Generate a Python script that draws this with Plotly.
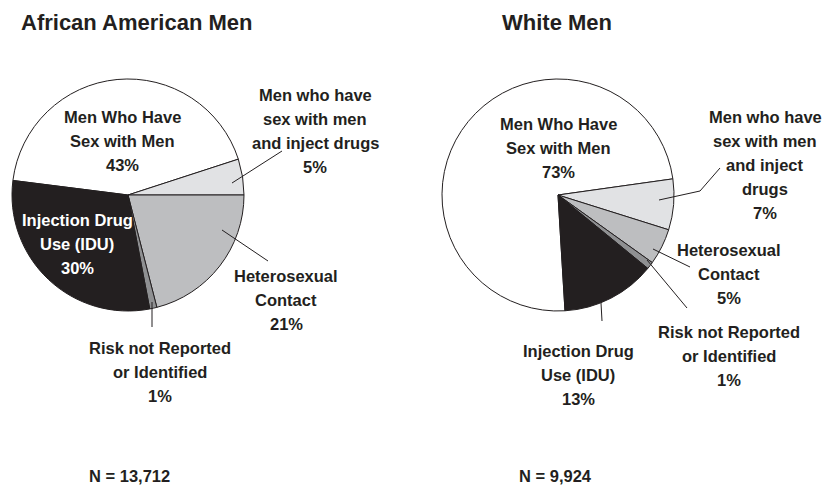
import plotly.graph_objects as go

# HIV/AIDS cases by exposure category
categories = [
    "Men Who Have Sex with Men",
    "Men who have sex with men and inject drugs",
    "Heterosexual Contact",
    "Risk not Reported or Identified",
    "Injection Drug Use (IDU)",
]
aa_values = [43, 5, 21, 1, 30]        # African American men, %
white_values = [73, 7, 5, 1, 13]      # White men, %
aa_n = "13,712"
white_n = "9,924"
titles = ["African American Men", "White Men"]

slice_colors = ["#ffffff", "#e1e2e4", "#bdbec0", "#8f9092", "#231f20"]
INK = "#231f20"
FONT = "Liberation Sans, Arial, sans-serif"
LABEL_SIZE = 16.5
LINE_GAP = 23.8

W, H = 822, 486


def px(x):
    return x / W


def py(y):
    return 1 - y / H


def domain(cx, cy, r):
    return dict(x=[px(cx - r), px(cx + r)], y=[py(cy + r), py(cy - r)])


def rotation_for(values, start_of_second):
    # angle (clockwise from 12 o'clock) where the first slice begins so that
    # the second slice starts at `start_of_second`
    total = sum(values)
    return start_of_second - 360.0 * values[0] / total


fig = go.Figure()

pies = [
    dict(values=aa_values, center=(128, 195), r=116, start=72),
    dict(values=white_values, center=(558, 195), r=116, start=82),
]

for p in pies:
    cx, cy = p["center"]
    fig.add_trace(go.Pie(
        labels=categories,
        values=p["values"],
        sort=False,
        direction="clockwise",
        rotation=rotation_for(p["values"], p["start"]),
        marker=dict(colors=slice_colors, line=dict(color=INK, width=1)),
        textinfo="none",
        hoverinfo="label+percent",
        showlegend=False,
        domain=domain(cx, cy, p["r"]),
    ))


# label layout: (category index, text lines, x centre, y centre, colour)
aa_labels = [
    (0, ["Men Who Have", "Sex with Men"], 122, 141, INK),
    (1, ["Men who have", "sex with men", "and inject drugs"], 315, 131, INK),
    (4, ["Injection Drug", "Use (IDU)"], 77, 244, "#ffffff"),
    (2, ["Heterosexual", "Contact"], 286, 300, INK),
    (3, ["Risk not Reported", "or Identified"], 160, 372, INK),
]
white_labels = [
    (0, ["Men Who Have", "Sex with Men"], 558, 148, INK),
    (1, ["Men who have", "sex with men", "and inject", "drugs"], 765, 165, INK),
    (2, ["Heterosexual", "Contact"], 729, 274, INK),
    (3, ["Risk not Reported", "or Identified"], 729, 356, INK),
    (4, ["Injection Drug", "Use (IDU)"], 578, 375, INK),
]

annotations = []


def add_text(text, x, y, size, color=INK, anchor="center"):
    annotations.append(dict(
        x=px(x), y=py(y), xref="paper", yref="paper", text=text,
        showarrow=False, xanchor=anchor, yanchor="middle",
        font=dict(family=FONT, size=size, color=color, weight="bold"),
    ))


for values, labels in [(aa_values, aa_labels), (white_values, white_labels)]:
    for idx, lines, x, y, color in labels:
        rows = lines + [f"{values[idx]}%"]
        top = y - (len(rows) - 1) / 2 * LINE_GAP
        for k, row in enumerate(rows):
            add_text(row, x, top + k * LINE_GAP, LABEL_SIZE, color)

# chart titles
for text, x in zip(titles, [19, 500]):
    add_text(text, x, 23, 22, anchor="left")

# sample sizes
for n, x in zip([aa_n, white_n], [87, 517]):
    add_text(f"N = {n}", x, 476, LABEL_SIZE, anchor="left")

# leader lines from slices to outside labels (pixel paths)
leaders = [
    [(232, 183), (282, 151)],
    [(222, 230), (268, 261)],
    [(152, 302), (152, 327)],
    [(659, 200), (700, 191), (720, 168)],
    [(653, 249), (690, 267)],
    [(647, 260), (687, 308)],
    [(601, 303), (602, 321)],
]
shapes = []
for pts in leaders:
    path = "M " + " L ".join(f"{px(x)},{py(y)}" for x, y in pts)
    shapes.append(dict(type="path", xref="paper", yref="paper", path=path,
                       line=dict(color=INK, width=1)))

fig.update_layout(
    width=W, height=H,
    margin=dict(l=0, r=0, t=0, b=0),
    paper_bgcolor="#ffffff", plot_bgcolor="#ffffff",
    annotations=annotations,
    shapes=shapes,
)

fig.write_html("out.html")
